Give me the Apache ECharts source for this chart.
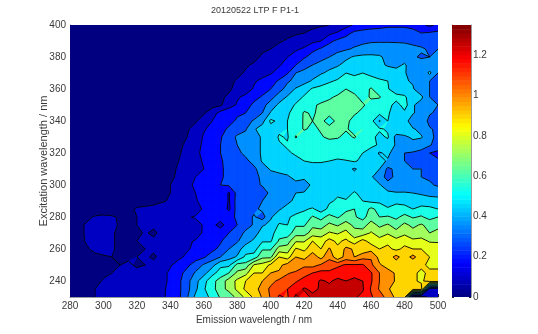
<!DOCTYPE html>
<html>
<head>
<meta charset="utf-8">
<title>20120522 LTP F P1-1</title>
<script src="https://cdn.jsdelivr.net/npm/echarts@6/dist/echarts.min.js"></script>
<style>
html, body { margin: 0; padding: 0; background: #fff; }
#main { width: 538px; height: 334px; }
</style>
</head>
<body>
<div id="main"></div>
<script>
// emission wavelengths (columns) and excitation wavelengths (rows), nm
const emission = [280,285,290,295,300,305,310,315,320,325,330,335,340,345,350,355,360,365,370,375,380,385,390,395,400,405,410,415,420,425,430,435,440,445,450,455,460,465,470,475,480,485,490,495,500];
const excitation = [400,395,390,385,380,375,370,365,360,355,350,345,340,335,330,325,320,315,310,305,300,295,290,285,280,275,270,265,260,255,250,245,240,235,230];

// intensity x100, one row per excitation wavelength
const intensity = [
[1,1,1,1,1,1,1,1,1,1,1,2,2,2,2,2,2,2,3,3,3,3,4,4,4,5,6,6,7,7,8,9,11,15,19,22,23,24,25,25,25,24,20,16,20],
[1,1,1,1,1,1,1,1,1,1,2,2,2,2,2,2,2,3,3,3,3,4,4,4,5,6,7,8,9,11,13,16,19,24,29,30,31,31,32,32,32,30,27,28,29],
[1,1,1,1,1,1,1,1,1,2,2,2,2,2,2,2,3,3,3,3,4,4,5,6,7,8,10,12,14,16,18,25,29,31,33,34,35,35,35,35,35,34,33,32,33],
[1,1,1,1,1,1,1,2,2,2,2,2,2,3,3,3,3,3,4,4,5,6,7,8,9,12,15,17,19,25,28,31,33,35,37,39,40,41,41,40,39,38,37,35,36],
[1,1,1,1,1,1,2,2,2,2,2,2,3,3,3,3,3,4,4,4,5,6,7,10,12,15,18,21,26,30,33,36,40,43,46,47,47,46,43,42,41,37,35,36,37],
[1,1,1,1,1,2,2,2,2,2,3,3,3,3,3,3,4,4,4,5,6,8,10,12,15,17,22,27,32,36,39,42,44,48,49,50,50,47,44,43,46,41,40,39,37],
[1,1,1,1,2,2,2,2,2,3,3,3,3,3,3,4,4,4,5,6,7,10,12,15,17,22,26,36,39,41,44,47,50,54,53,54,52,51,50,48,46,40,38,47,36],
[1,1,1,1,2,2,2,2,2,3,3,3,3,3,3,4,4,5,6,7,10,13,17,20,24,28,35,38,42,46,51,53,55,57,56,56,57,55,54,49,46,44,37,36,35],
[1,1,1,1,2,2,2,2,2,3,3,3,3,3,3,4,4,5,6,8,11,14,19,23,27,33,39,46,50,55,56,58,60,63,60,59,64,57,55,47,46,46,38,36,35],
[1,1,1,2,2,2,2,2,3,3,3,3,3,3,4,4,5,6,8,10,17,20,24,28,33,40,46,50,55,58,60,62,64,67,65,60,64,64,55,58,56,46,47,36,35],
[1,1,1,2,2,2,2,2,3,3,3,3,3,3,4,4,5,6,8,14,19,23,29,33,40,47,50,55,59,62,64,65,67,68,66,64,60,57,58,50,58,46,41,38,36],
[1,1,1,2,2,2,2,2,3,3,3,3,3,3,4,6,8,14,21,24,26,27,31,36,46,50,53,57,64,62,65,66,68,67,64,61,60,56,55,50,52,46,41,37,34],
[1,1,2,2,2,2,2,3,3,3,3,3,4,5,7,8,13,18,22,25,28,33,37,42,56,52,54,58,64,63,66,58,66,65,60,58,57,44,54,50,50,38,43,33,27],
[1,1,2,2,2,2,2,3,3,3,3,3,4,6,8,12,17,21,25,28,33,35,44,49,50,52,54,58,64,61,64,67,66,64,60,63,56,55,53,51,49,46,42,37,34],
[1,1,2,2,2,2,2,3,3,3,3,3,4,6,9,13,19,23,26,33,37,39,42,46,48,55,53,64,57,60,62,65,64,60,64,58,56,52,55,42,44,46,46,38,34],
[1,1,2,2,2,2,2,3,3,3,3,4,6,8,10,14,20,24,27,31,36,39,42,46,49,53,55,56,57,57,57,58,58,57,56,57,56,53,50,44,43,43,39,37,32],
[1,1,2,2,2,2,2,3,3,3,3,4,7,8,12,15,21,23,27,31,34,38,42,46,48,50,53,55,55,56,57,57,57,63,57,54,50,44,47,40,36,35,34,27,25],
[1,1,2,2,2,2,2,3,3,3,3,4,7,9,12,15,19,23,26,30,32,34,39,46,48,49,51,52,54,55,55,54,53,53,55,52,50,48,44,38,36,35,34,33,28],
[1,1,2,2,2,2,2,3,3,3,3,4,7,10,12,15,18,22,26,29,30,32,34,41,46,47,48,50,50,50,50,49,49,48,44,48,47,45,34,38,37,36,36,35,32],
[1,1,2,2,2,2,2,3,3,3,4,5,8,10,13,18,20,23,26,29,30,31,33,38,41,43,44,47,48,47,48,47,47,47,48,47,46,40,33,38,37,37,36,35,33],
[1,1,2,2,2,2,2,3,3,3,4,5,9,11,15,20,22,24,27,28,30,31,33,37,40,41,42,43,38,48,47,48,47,48,49,48,47,46,39,36,37,37,37,37,35],
[1,2,2,2,2,2,3,3,3,4,5,7,9,12,15,18,21,24,26,17,30,31,33,30,39,41,37,45,46,47,45,50,53,50,55,51,48,47,47,46,46,45,44,42,41],
[2,2,2,2,2,3,3,4,5,5,6,8,10,13,15,17,21,24,26,17,31,32,34,36,38,40,43,47,47,48,52,53,55,55,55,54,52,52,50,51,51,50,49,49,49],
[3,3,3,3,3,4,5,7,10,11,12,13,14,15,14,12,20,24,25,16,31,32,34,38,40,44,48,47,53,55,50,56,60,61,63,58,65,60,55,59,57,54,57,56,54],
[4,5,7,10,11,10,8,8,9,11,12,14,15,16,17,19,20,21,23,25,28,32,37,32,44,50,52,58,57,64,60,66,62,67,64,60,68,63,64,61,66,62,64,60,63],
[4,7,10,11,12,11,8,8,9,12,11,13,14,16,17,14,19,21,14,24,27,32,37,44,47,55,54,62,62,70,68,74,71,76,70,68,76,70,73,68,74,70,73,69,70],
[4,7,10,12,12,10,7,6,7,10,7,12,14,15,16,12,20,22,25,27,31,38,40,50,50,60,58,68,68,76,76,82,80,84,75,76,82,77,80,75,79,75,76,72,74],
[4,6,10,12,13,10,7,7,9,10,11,12,13,14,16,19,21,23,26,32,35,41,47,53,53,64,68,80,80,90,86,93,88,92,85,93,86,84,88,84,87,83,84,80,80],
[4,5,8,11,12,10,7,6,7,9,10,11,12,14,17,20,22,25,29,36,41,50,50,62,62,76,76,91,88,95,90,100,92,101,98,92,96,90,92,88,92,90,90,87,85],
[3,3,4,7,8,9,8,8,9,10,8,11,13,16,20,23,26,31,36,42,46,56,58,70,70,90,86,99,96,104,96,106,92,103,99,105,107,96,94,102,94,102,93,90,87],
[3,3,4,5,6,8,9,10,8,9,11,12,17,22,25,31,37,42,52,52,66,66,82,84,92,97,102,100,106,105,109,112,115,118,118,118,110,100,96,94,94,91,92,88,88],
[3,3,4,5,7,9,9,10,11,12,13,15,20,24,30,37,42,51,58,63,74,78,90,90,99,100,107,110,114,117,120,119,122,120,123,121,118,108,102,98,94,92,88,92,92],
[3,3,4,6,10,11,12,11,12,13,13,15,20,25,33,42,51,60,67,76,83,90,94,99,105,110,113,116,120,123,127,125,128,126,128,126,118,108,103,98,94,92,88,95,95],
[3,3,4,9,10,11,11,11,12,13,14,15,22,25,33,43,53,60,68,75,83,92,96,102,110,114,117,122,127,124,127,128,130,128,130,127,116,107,100,95,92,95,95,12,12],
[3,3,4,9,10,11,12,12,13,13,14,15,23,25,35,47,50,57,64,66,75,83,92,100,109,118,116,128,122,128,127,130,127,130,127,124,118,113,104,97,95,2,2,12,12]
];

const levels = [0,0.09,0.18,0.27,0.36,0.45,0.54,0.63,0.72,0.81,0.9,0.99,1.08,1.17,1.26];
const colorMax = 1.35;
const colorTicks = [0,0.2,0.4,0.6,0.8,1,1.2];
const yTicks = [240,260,280,300,320,340,360,380,400];
const colorSteps = 64;

function jet(t) {
    const c = v => Math.round(255 * Math.max(0, Math.min(1, v)));
    const r = c(Math.min(4 * t - 1.5, -4 * t + 4.5));
    const g = c(Math.min(4 * t - 0.5, -4 * t + 3.5));
    const b = c(Math.min(4 * t + 0.5, -4 * t + 2.5));
    return `rgb(${r},${g},${b})`;
}

// corners of one grid cell, in data space
function cellCorners(i, j) {
    return [
        { x: emission[i], y: excitation[j], z: intensity[j][i] / 100 },
        { x: emission[i + 1], y: excitation[j], z: intensity[j][i + 1] / 100 },
        { x: emission[i + 1], y: excitation[j + 1], z: intensity[j + 1][i + 1] / 100 },
        { x: emission[i], y: excitation[j + 1], z: intensity[j + 1][i] / 100 }
    ];
}

function crossing(a, b, level) {
    const k = (level - a.z) / (b.z - a.z);
    return { x: a.x + (b.x - a.x) * k, y: a.y + (b.y - a.y) * k };
}

// part of the cell at or above a level
function clipCell(corners, level) {
    const out = [];
    corners.forEach((a, n) => {
        const b = corners[(n + 1) % 4];
        if (a.z >= level) out.push(a);
        if ((a.z >= level) !== (b.z >= level)) out.push(crossing(a, b, level));
    });
    return out;
}

// one item per level, painted from the lowest up
const levelData = levels.map((level, n) => [emission[0], excitation[0], n]);

function forEachCell(fn) {
    for (let j = 0; j < excitation.length - 1; j++) {
        for (let i = 0; i < emission.length - 1; i++) fn(cellCorners(i, j));
    }
}

function renderFill(params, api) {
    const level = levels[api.value(2)];
    const color = jet(level / colorMax);
    const children = [];
    if (level === 0) {
        const last = [emission[emission.length - 1], excitation[excitation.length - 1]];
        const a = api.coord([emission[0], excitation[0]]);
        const b = api.coord(last);
        return { type: 'rect', shape: { x: a[0], y: a[1], width: b[0] - a[0], height: b[1] - a[1] }, style: { fill: color } };
    }
    forEachCell(corners => {
        const poly = clipCell(corners, level);
        if (poly.length < 3) return;
        children.push({
            type: 'polygon',
            shape: { points: poly.map(p => api.coord([p.x, p.y])) },
            style: { fill: color, stroke: color, lineWidth: 0.6 }
        });
    });
    return { type: 'group', children: children };
}

function renderLines(params, api) {
    const level = levels[api.value(2)];
    const children = [];
    if (level === 0) return { type: 'group', children: children };
    forEachCell(corners => {
        const hits = [];
        corners.forEach((a, n) => {
            const b = corners[(n + 1) % 4];
            if ((a.z >= level) !== (b.z >= level)) hits.push(crossing(a, b, level));
        });
        for (let n = 0; n + 1 < hits.length; n += 2) {
            const p = api.coord([hits[n].x, hits[n].y]);
            const q = api.coord([hits[n + 1].x, hits[n + 1].y]);
            children.push({
                type: 'line',
                shape: { x1: p[0], y1: p[1], x2: q[0], y2: q[1] },
                style: { stroke: '#050505', lineWidth: 0.9 }
            });
        }
    });
    return { type: 'group', children: children };
}

const colorBarData = [];
for (let n = 0; n < colorSteps; n++) colorBarData.push([0, n * colorMax / colorSteps, (n + 1) * colorMax / colorSteps]);

function renderColorBar(params, api) {
    const a = api.coord([0, api.value(1)]);
    const b = api.coord([1, api.value(2)]);
    return {
        type: 'rect',
        shape: { x: a[0], y: b[1], width: b[0] - a[0], height: a[1] - b[1] + 0.5 },
        style: { fill: jet((api.value(1) + colorMax / colorSteps / 2) / colorMax) }
    };
}

const labelFont = { color: '#3a3a3a', fontSize: 10, fontFamily: 'Liberation Sans' };

const option = {
    animation: false,
    backgroundColor: '#fff',
    title: {
        text: '20120522 LTP F P1-1',
        left: 250,
        top: 1,
        textAlign: 'center',
        textStyle: { color: '#3a3a3a', fontSize: 9, fontWeight: 'normal', fontFamily: 'Liberation Sans' }
    },
    grid: [
        { left: 70, top: 25, width: 368, height: 272 },
        { left: 452, top: 25, width: 19, height: 272 }
    ],
    xAxis: [
        {
            type: 'value', min: 280, max: 500, interval: 20, gridIndex: 0,
            name: 'Emission wavelength / nm', nameLocation: 'middle', nameGap: 18, nameMoveOverlap: false,
            nameTextStyle: labelFont,
            axisLine: { onZero: false, lineStyle: { color: '#333', width: 0.5 } },
            axisTick: { inside: true, length: 3, lineStyle: { color: '#222' } },
            axisLabel: Object.assign({ margin: 4 }, labelFont),
            splitLine: { show: false }
        },
        { type: 'value', min: 0, max: 1, gridIndex: 1, show: false }
    ],
    yAxis: [
        {
            type: 'value', min: 230, max: 400, gridIndex: 0,
            // ticks fall on the round wavelengths, the axis starts at 230
            axisLabel: Object.assign({ margin: 4, customValues: yTicks }, labelFont),
            axisTick: { inside: true, length: 3, lineStyle: { color: '#222' }, customValues: yTicks },
            name: 'Excitation wavelength / nm', nameLocation: 'middle', nameGap: 21, nameMoveOverlap: false,
            nameTextStyle: Object.assign({}, labelFont, { fontSize: 11 }),
            axisLine: { onZero: false, lineStyle: { color: '#333', width: 0.5 } },
            splitLine: { show: false }
        },
        {
            type: 'value', min: 0, max: colorMax, gridIndex: 1, position: 'right',
            axisLabel: Object.assign({ margin: 2, customValues: colorTicks }, labelFont),
            axisTick: { inside: true, length: 2, lineStyle: { color: '#222' }, customValues: colorTicks },
            axisLine: { onZero: false, lineStyle: { color: '#333', width: 0.5 } },
            splitLine: { show: false }
        },
        {
            type: 'value', min: 0, max: colorMax, gridIndex: 1, position: 'left',
            axisLabel: { show: false },
            axisTick: { inside: true, length: 2, lineStyle: { color: '#222' }, customValues: colorTicks },
            axisLine: { onZero: false, lineStyle: { color: '#333', width: 0.5 } },
            splitLine: { show: false }
        }
    ],
    series: [
        {
            type: 'custom', name: 'fill', xAxisIndex: 0, yAxisIndex: 0, clip: true, silent: true,
            renderItem: renderFill, data: levelData, encode: { x: 0, y: 1 }, z: 1
        },
        {
            type: 'custom', name: 'contours', xAxisIndex: 0, yAxisIndex: 0, clip: true, silent: true,
            renderItem: renderLines, data: levelData, encode: { x: 0, y: 1 }, z: 2
        },
        {
            type: 'custom', name: 'colorbar', xAxisIndex: 1, yAxisIndex: 1, clip: true, silent: true,
            renderItem: renderColorBar, data: colorBarData, encode: { x: 0, y: [1, 2] }, z: 1
        }
    ]
};

const plot = echarts.init(document.querySelector('#main'), null, { renderer: 'canvas' });
plot.setOption(option);
</script>
</body>
</html>
